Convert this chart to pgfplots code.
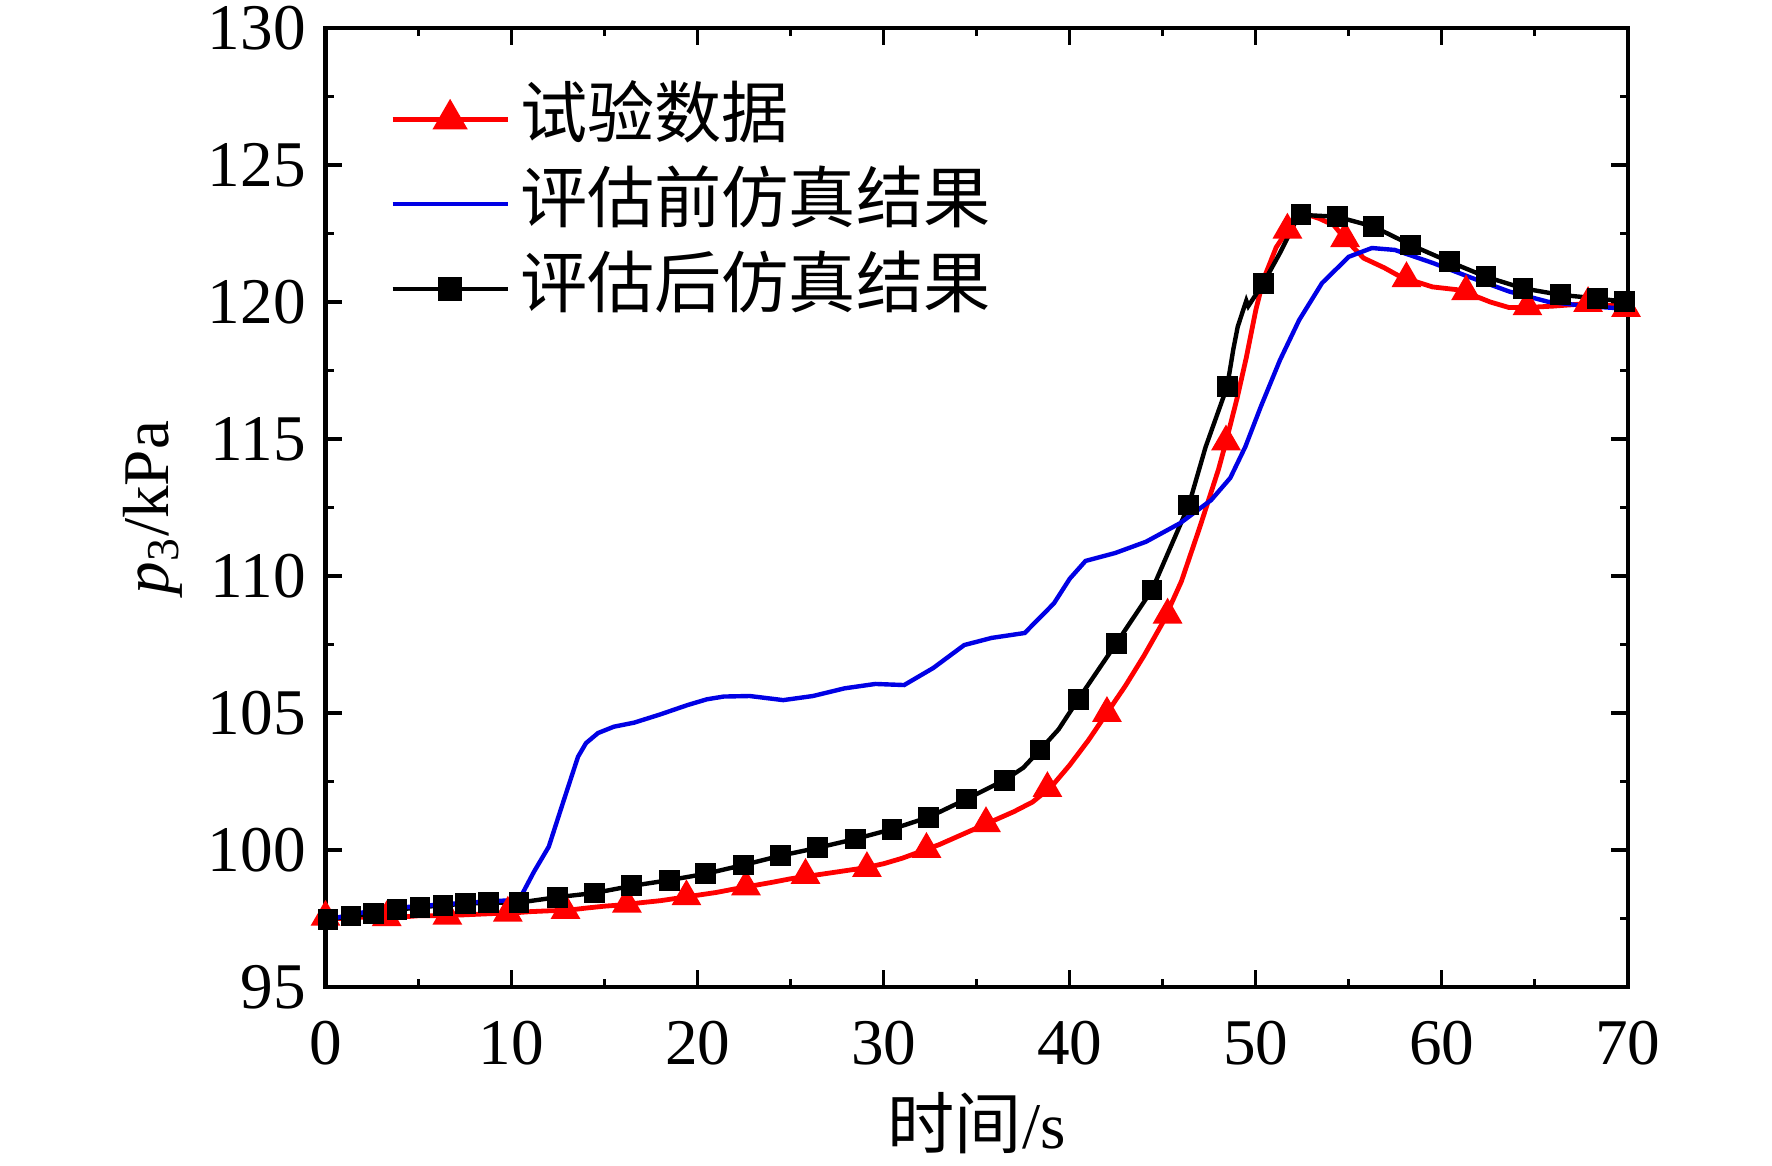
\documentclass[border=0pt]{standalone}
\usepackage{fontspec}
\setmainfont{Liberation Serif}
\newfontfamily\cjk{Noto Sans CJK SC}
\usepackage{pgfplots}
\pgfplotsset{compat=1.18}
\begin{document}
\begin{tikzpicture}
\path[use as bounding box] (-81.375pt,-44.5pt) rectangle (361.625pt,246.75pt);
\begin{axis}[
  scale only axis, width=325.6pt, height=239.75pt,
  xmin=0, xmax=70, ymin=95, ymax=130,
  xtick={0,10,...,70}, ytick={95,100,...,130},
  minor x tick num=1, minor y tick num=1,
  tick align=inside,
  major tick length=4.2pt, minor tick length=2.1pt,
  every tick/.style={black, line width=0.8pt},
  axis line style={line width=1.1pt},
  /pgf/number format/assume math mode=true,
  ticklabel style={font=\fontsize{16.3}{19}\selectfont},
  xticklabel shift=5pt, yticklabel shift=1.4pt,
  label style={font=\fontsize{16.3}{19}\selectfont},
  xlabel shift=0pt, ylabel shift=-0.4pt,
  xlabel={{\cjk\fontsize{16.8}{19}\selectfont 时间}/s},
  ylabel={\textit{p}\textsubscript{3}/kPa},
  clip=false,
  legend cell align=left,
  legend image code/.code={\draw[mark repeat=2,mark phase=2,#1] plot coordinates {(0pt,0pt) (14.4pt,0pt) (28.8pt,0pt)};},
  legend style={draw=none, fill=none, inner sep=0pt, at={(0.049,0.937)}, anchor=north west,
    font=\fontsize{16.8}{19}\selectfont,
    nodes={inner sep=0pt, text height=12pt, text depth=3pt},
    column sep=2.5pt, row sep=6.25pt},
]
\addlegendimage{red, line width=1.2pt, mark=triangle*, mark size=3.9pt}
\addlegendentry{\cjk 试验数据}
\addlegendimage{blue!90!black, line width=1.1pt}
\addlegendentry{\cjk 评估前仿真结果}
\addlegendimage{black, line width=1.1pt, mark=square*, mark size=2.4pt}
\addlegendentry{\cjk 评估后仿真结果}

% experimental data (line)
\addplot[red, line width=1.2pt, forget plot] table {
0 97.5
1 97.5
2 97.55
3 97.55
4 97.55
5 97.6
6 97.6
7 97.62
8 97.65
9 97.68
10 97.7
11 97.75
12 97.78
13 97.8
14 97.88
15 97.95
16 98.0
17 98.08
18 98.15
19 98.25
20 98.35
21 98.45
22 98.58
23 98.7
24 98.82
25 98.95
26 99.05
27 99.15
28 99.25
29 99.35
30 99.5
31 99.7
32 99.95
33 100.2
34 100.5
35 100.8
36 101.1
37 101.4
38 101.75
39 102.3
40 103.1
41 104.0
42 105.0
43 106.0
44 107.1
45 108.3
46 109.8
47 111.8
48 113.9
48.4 114.9
49 116.5
49.5 118.0
50 119.7
50.4 120.8
51.1 122.0
51.7 122.6
52.5 123.25
53.4 123.05
54.2 122.8
54.8 122.3
55.8 121.6
56.9 121.25
57.7 120.95
58.1 120.85
59.5 120.55
60.8 120.45
61.3 120.35
62.6 120.0
63.6 119.8
64.6 119.8
66 119.85
68 119.95
70 119.8
};
% experimental data (marks)
\addplot[only marks, red, mark=triangle*, mark size=3.9pt, forget plot] table {
0 97.55
3.29 97.54
6.55 97.59
9.8 97.7
12.9 97.8
16.2 98.03
19.4 98.3
22.6 98.66
25.8 99.08
29.1 99.33
32.3 100.03
35.5 100.97
38.8 102.25
42.0 104.99
45.26 108.58
48.4 114.9
51.7 122.63
54.8 122.32
58.1 120.86
61.3 120.38
64.6 119.83
67.86 119.95
69.9 119.77
};
% after-assessment simulation (line)
\addplot[black, line width=1.1pt, forget plot] table {
0 97.45
1.37 97.59
2.6 97.68
3.84 97.82
5.08 97.91
6.32 97.98
7.54 98.04
8.78 98.08
10.4 98.08
12.48 98.28
14.45 98.43
16.46 98.69
18.48 98.9
20.42 99.13
22.45 99.45
24.45 99.79
26.45 100.08
28.47 100.4
30.45 100.76
32.43 101.2
34.46 101.86
36.5 102.55
37.5 103.0
38.4 103.65
39.4 104.4
40.46 105.5
42.5 107.54
44.42 109.49
46.4 112.59
47.3 114.7
48.46 116.91
48.8 118.3
49.03 119.1
49.49 120.05
49.6 119.85
50.4 120.68
51.3 121.79
52.1 122.88
52.43 123.18
54.38 123.11
56.34 122.75
58.33 122.08
60.4 121.47
62.37 120.92
64.36 120.5
66.37 120.26
68.36 120.13
69.8 120.01
70 120.0
};
% after-assessment simulation (marks)
\addplot[only marks, black, mark=square*, mark size=2.4pt, forget plot] table {
0.13 97.45
1.37 97.59
2.6 97.68
3.84 97.82
5.08 97.91
6.32 97.98
7.54 98.04
8.78 98.08
10.4 98.08
12.48 98.28
14.45 98.43
16.46 98.69
18.48 98.9
20.42 99.13
22.45 99.45
24.45 99.79
26.45 100.08
28.47 100.4
30.45 100.76
32.43 101.2
34.46 101.86
36.5 102.55
38.4 103.65
40.46 105.5
42.5 107.54
44.42 109.49
46.4 112.59
48.46 116.91
50.4 120.68
52.43 123.18
54.38 123.11
56.34 122.75
58.33 122.08
60.4 121.47
62.37 120.92
64.36 120.5
66.37 120.26
68.36 120.13
69.8 120.01
};
% before-assessment simulation
\addplot[blue!90!black, line width=1.1pt, forget plot] table {
0 97.45
2 97.72
4 97.9
7 98.05
10.3 98.18
10.5 98.3
11.2 99.2
12.0 100.12
12.8 101.8
13.57 103.4
14.0 103.9
14.65 104.27
15.5 104.5
16.6 104.65
18 104.95
19.46 105.29
20.5 105.5
21.4 105.6
22.8 105.62
24.6 105.47
26.2 105.62
27.9 105.9
29.55 106.06
31.1 106.02
32.66 106.64
34.33 107.48
35.8 107.74
37.58 107.92
39.15 109.0
40.0 109.9
40.85 110.55
42.45 110.84
44.1 111.25
45.94 111.93
47.6 112.77
48.63 113.58
49.44 114.72
50.27 116.18
51.3 117.88
52.33 119.34
53.56 120.69
55.0 121.65
56.24 121.97
57.47 121.9
59.53 121.42
61.6 120.88
63.63 120.38
65.7 120.01
67.76 119.85
70 119.75
};
\end{axis}
\end{tikzpicture}
\end{document}
